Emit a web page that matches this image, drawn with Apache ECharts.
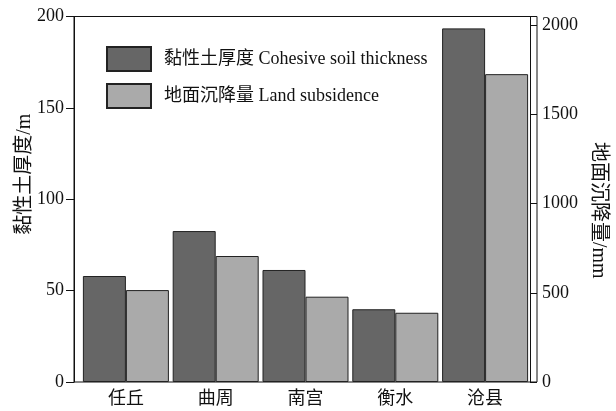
<!DOCTYPE html>
<html>
<head>
<meta charset="utf-8">
<script src="https://cdn.jsdelivr.net/npm/echarts@6/dist/echarts.min.js"></script>
<style>html,body{margin:0;padding:0;background:#fff;}#c{width:616px;height:411px;}</style>
</head>
<body>
<div id="c"></div>
<script>
var categories = ['任丘', '曲周', '南宫', '衡水', '沧县'];
var thickness = [58, 82.6, 61.3, 39.8, 193.5];
var subsidence = [515, 706, 478, 388, 1725];
var leftTicks = [0, 50, 100, 150, 200];
var rightTicks = [0, 500, 1000, 1500, 2000];
var seriesNames = ['黏性土厚度 Cohesive soil thickness', '地面沉降量 Land subsidence'];

var FONT = "'Liberation Serif', 'Noto Sans CJK SC', serif";
var chart = echarts.init(document.getElementById('c'), null, {renderer: 'canvas'});
chart.setOption({
  animation: false,
  backgroundColor: '#fff',
  grid: [
    {left: 81, right: 79, top: 16.5, bottom: 29, containLabel: false},
    {left: 74, right: 79, top: 16.5, bottom: 29, show: true, borderColor: '#111', borderWidth: 1, backgroundColor: 'transparent'}
  ],
  legend: {
    orient: 'vertical',
    left: 101,
    top: 41,
    itemWidth: 44,
    itemHeight: 24,
    itemGap: 11,
    icon: 'rect',
    textStyle: {fontFamily: FONT, fontSize: 18, color: '#111', padding: [0, 0, 0, 8]},
    data: seriesNames
  },
  xAxis: [
    {type: 'category', gridIndex: 0, data: categories,
     axisLine: {show: false}, axisTick: {show: false},
     axisLabel: {fontFamily: FONT, fontSize: 18, color: '#111', margin: 8}},
    {type: 'value', gridIndex: 1, show: false}
  ],
  yAxis: [
    {type: 'value', gridIndex: 0, position: 'left', offset: 7, min: 0, max: 200, interval: 50,
     name: '黏性土厚度/m', nameLocation: 'middle', nameRotate: 90, nameGap: 39, nameMoveOverlap: false,
     nameTextStyle: {fontFamily: FONT, fontSize: 20, color: '#111', padding: [0, 0, 0, 50]},
     axisLine: {show: true, lineStyle: {color: '#111', width: 1}},
     axisTick: {show: true, length: 8, lineStyle: {color: '#111'}},
     axisLabel: {fontFamily: FONT, fontSize: 18, color: '#111', margin: 10},
     splitLine: {show: false}},
    {type: 'value', gridIndex: 0, position: 'right', min: 0, max: 2048,
     name: '地面沉降量/mm', nameLocation: 'middle', nameRotate: -90, nameGap: 58, nameMoveOverlap: false,
     nameTextStyle: {fontFamily: FONT, fontSize: 20, color: '#111', padding: [0, 0, 0, 22]},
     axisLine: {show: true, lineStyle: {color: '#111', width: 1}},
     axisTick: {show: true, length: 7, lineStyle: {color: '#111'}, customValues: rightTicks},
     axisLabel: {fontFamily: FONT, fontSize: 18, color: '#111', margin: 12, customValues: rightTicks,
                 formatter: function (v) { return String(v); }},
     splitLine: {show: false}},
    {type: 'value', gridIndex: 1, show: false}
  ],
  series: [
    {name: seriesNames[0], type: 'bar', xAxisIndex: 0, yAxisIndex: 0, data: thickness,
     barWidth: 43, barGap: '0%',
     itemStyle: {color: '#666666', borderColor: '#222', borderWidth: 1}},
    {name: seriesNames[1], type: 'bar', xAxisIndex: 0, yAxisIndex: 1, data: subsidence,
     barWidth: 43, barGap: '0%',
     itemStyle: {color: '#aaaaaa', borderColor: '#222', borderWidth: 1}}
  ]
});
</script>
</body>
</html>
